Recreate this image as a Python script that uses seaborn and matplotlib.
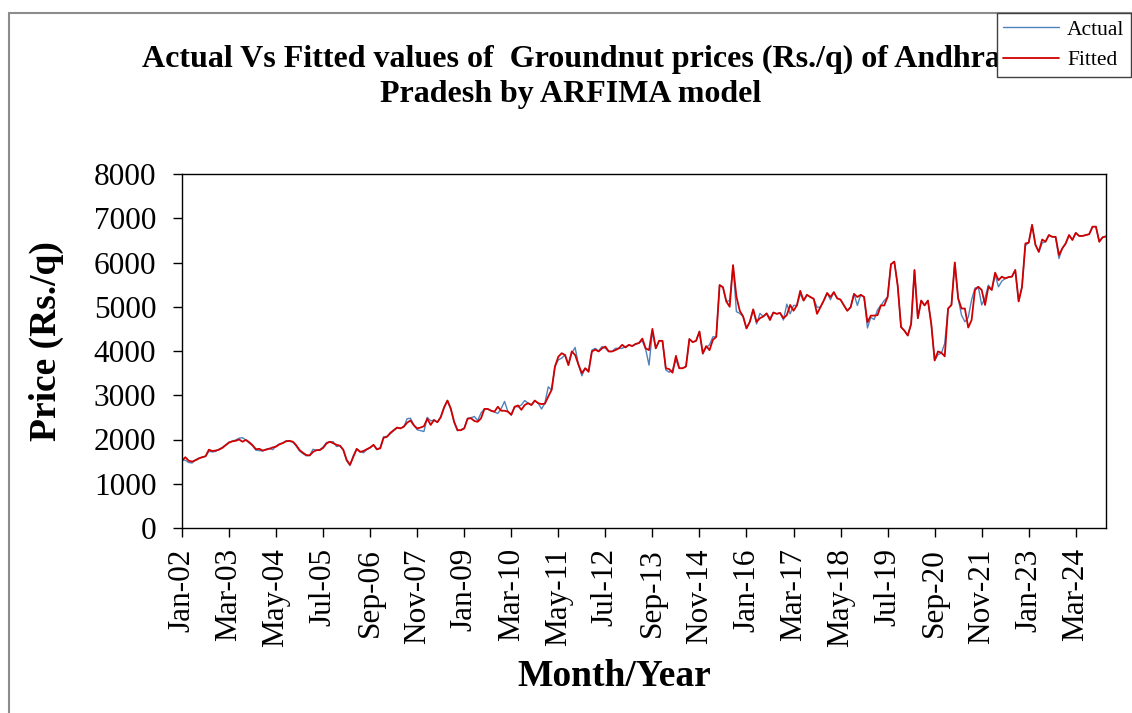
import pandas as pd
import numpy as np
from matplotlib import pyplot as plt
from matplotlib.lines import Line2D
import seaborn as sbn

# monthly groundnut prices, Andhra Pradesh, Jan 2002 - Dec 2024
months = pd.date_range("2002-01-01", periods=276, freq="MS")

actual = [
    1540, 1530, 1480, 1470, 1540, 1580, 1600, 1620, 1730, 1720,
    1730, 1780, 1820, 1880, 1940, 1960, 1990, 2030, 2040, 1990,
    1920, 1860, 1760, 1750, 1740, 1780, 1800, 1770, 1850, 1900,
    1920, 1970, 1960, 1940, 1850, 1740, 1680, 1630, 1640, 1780,
    1750, 1770, 1830, 1930, 1950, 1950, 1840, 1860,
    1760, 1520, 1410, 1640, 1780, 1730, 1700, 1770, 1810, 1870,
    1770, 1820, 2060, 2070, 2130, 2200, 2260, 2260, 2280, 2470,
    2480, 2330, 2220, 2200, 2180, 2500, 2420, 2440, 2390, 2520,
    2740, 2880, 2680, 2380, 2200, 2220, 2260, 2480, 2490, 2520,
    2430, 2600, 2690, 2690,
    2650, 2620, 2590, 2700, 2860, 2630, 2550, 2740, 2740, 2780,
    2880, 2820, 2780, 2880, 2820, 2690, 2820, 3190, 3120, 3650,
    3800, 3840, 3910, 3700, 3950, 4080, 3690, 3440, 3610, 3560,
    4020, 4060, 4000, 4100, 4060, 3990, 3990, 4060, 4060, 4060,
    4100, 4130, 4120, 4150, 4180, 4230,
    4040, 3680, 4440, 4060, 4230, 4230, 3570, 3520, 3570, 3800,
    3610, 3610, 3650, 4270, 4200, 4230, 4440, 3930, 4080, 4140,
    4320, 4320, 5490, 5440, 5120, 5140, 5940, 4890, 4850, 4780,
    4510, 4660, 4940, 4610, 4850, 4780, 4850, 4740, 4870, 4840,
    4860, 4700, 5060, 4840, 5030, 5030, 5290, 5140, 5270, 5220,
    5180, 4990, 4990, 5140, 5310, 5160, 5330, 5190, 5160, 5030,
    4910, 4990, 5290, 5030, 5270, 5220, 4520, 4760, 4710, 4930,
    5030, 5140, 5220, 5960, 6020, 5480, 4540, 4460, 4350, 4610,
    5830, 4740, 5140, 5030, 5140, 4610, 3780, 3920,
    3950, 4170, 4960, 5040, 6000, 5190, 4810, 4660, 4760, 5160,
    5420, 5450, 5040, 5200, 5490, 5380, 5720, 5450, 5580, 5640,
    5670, 5680, 5830, 5120, 5450, 6380, 6450, 6850, 6400, 6240,
    6440, 6470, 6620, 6580, 6580, 6090, 6320, 6430, 6620, 6510,
    6670, 6600, 6600, 6620, 6640, 6810, 6810, 6470, 6570, 6590,
]

fitted = [
    1520, 1600, 1520, 1500, 1530, 1570, 1600, 1620, 1770, 1740,
    1750, 1770, 1810, 1870, 1930, 1960, 1970, 2000, 1950, 1990,
    1940, 1870, 1780, 1790, 1750, 1770, 1790, 1820, 1840, 1890,
    1920, 1960, 1970, 1950, 1870, 1760, 1700, 1650, 1640, 1720,
    1760, 1760, 1810, 1910, 1950, 1915, 1880, 1860,
    1770, 1540, 1430, 1610, 1790, 1720, 1740, 1780, 1820, 1880,
    1780, 1800, 2040, 2060, 2150, 2210, 2270, 2250, 2290, 2380,
    2430, 2320, 2250, 2270, 2300, 2470, 2330, 2440, 2390, 2500,
    2720, 2880, 2700, 2400, 2210, 2210, 2250, 2470, 2480, 2420,
    2400, 2480, 2690, 2690,
    2650, 2630, 2740, 2650, 2650, 2630, 2560, 2740, 2770, 2670,
    2780, 2820, 2780, 2880, 2820, 2800, 2810, 2970, 3120, 3650,
    3870, 3950, 3910, 3680, 3990, 3910, 3690, 3500, 3610, 3530,
    3990, 4030, 3990, 4060, 4100, 3990, 3990, 4020, 4060, 4140,
    4080, 4140, 4110, 4160, 4180, 4280,
    4060, 4020, 4500, 4060, 4230, 4230, 3610, 3590, 3510, 3890,
    3610, 3610, 3650, 4270, 4200, 4230, 4440, 3950, 4110, 4020,
    4250, 4320, 5490, 5440, 5120, 5000, 5940, 5230, 4910, 4780,
    4510, 4660, 4940, 4660, 4740, 4780, 4850, 4700, 4870, 4840,
    4860, 4740, 4810, 5040, 4910, 5030, 5360, 5140, 5270, 5220,
    5180, 4840, 4990, 5140, 5310, 5220, 5330, 5190, 5160, 5030,
    4910, 4990, 5290, 5220, 5270, 5220, 4650, 4800, 4800, 4810,
    5030, 5030, 5220, 5960, 6020, 5480, 4540, 4460, 4350, 4610,
    5830, 4740, 5140, 5030, 5140, 4610, 3790, 3990,
    3960, 3880, 4960, 5040, 6000, 5190, 4960, 4960, 4530, 4700,
    5380, 5450, 5380, 5040, 5450, 5380, 5770, 5600, 5680, 5640,
    5670, 5680, 5830, 5120, 5450, 6430, 6450, 6850, 6400, 6240,
    6520, 6470, 6620, 6580, 6580, 6170, 6320, 6430, 6620, 6510,
    6670, 6600, 6600, 6620, 6640, 6810, 6810, 6470, 6570, 6590,
]

assert len(actual) == len(months) == len(fitted)

blue = "#4F81BD"
red = "#D00000"

sbn.set_theme(style="ticks")
plt.rcParams["font.family"] = ["Liberation Serif", "DejaVu Serif"]
plt.rcParams["text.color"] = "black"

df = pd.DataFrame({"idx": np.arange(len(months)), "Actual": actual, "Fitted": fitted})

fig = plt.figure(figsize=(11.32, 7.13), dpi=100)
ax = fig.add_axes([182 / 1132, 1 - 528 / 713, 924 / 1132, 354 / 713])

sbn.lineplot(data=df, x="idx", y="Actual", color=blue, linewidth=1.0, ax=ax)
sbn.lineplot(data=df, x="idx", y="Fitted", color=red, linewidth=1.3, ax=ax)

# category style axis: a label every 14 months
tick_pos = list(range(0, len(months), 14))
ax.set_xticks(tick_pos)
ax.set_xticklabels([months[i].strftime("%b-%y") for i in tick_pos], rotation=90)
ax.set_xlim(0, len(months) - 1)
ax.set_ylim(0, 8000)
ax.set_yticks(range(0, 8001, 1000))
ax.set_xlabel("")
ax.set_ylabel("")

for s in ax.spines.values():
    s.set_visible(True)
    s.set_color("black")
    s.set_linewidth(1.0)
ax.tick_params(axis="both", direction="out", length=6.5, width=1, color="black", labelcolor="black")
ax.tick_params(axis="y", labelsize=22.5, pad=12)
ax.tick_params(axis="x", labelsize=22.5, pad=8)

fig.text(571 / 1132, 1 - 77 / 713,
         "Actual Vs Fitted values of  Groundnut prices (Rs./q) of Andhra\nPradesh by ARFIMA model",
         ha="center", va="center", fontsize=23, fontweight="bold", linespacing=1.25, color="black")
fig.text(46 / 1132, 1 - 341 / 713, "Price (Rs./q)", rotation=90, ha="center", va="center",
         fontsize=27, fontweight="bold", color="black")
fig.text(614 / 1132, 1 - 676 / 713, "Month/Year", ha="center", va="center",
         fontsize=27, fontweight="bold", color="black")

handles = [Line2D([], [], color=blue, lw=1.0), Line2D([], [], color=red, lw=1.3)]
leg = fig.legend(handles, ["Actual", "Fitted"], loc="upper left",
                 bbox_to_anchor=(997 / 1132, 1 - 13 / 713), fontsize=15.5, frameon=True,
                 fancybox=False, framealpha=1, edgecolor="#404040", handlelength=2.6,
                 borderpad=0.3, labelspacing=0.5, handletextpad=0.35, borderaxespad=0)
leg.get_frame().set_linewidth(1.0)
for t in leg.get_texts():
    t.set_color("black")

# chart area border (left and top edges show)
fig.add_artist(Line2D([9 / 1132, 9 / 1132], [0, 1 - 13 / 713], transform=fig.transFigure,
                      color="#8c8c8c", lw=1.5))
fig.add_artist(Line2D([9 / 1132, 1], [1 - 13 / 713, 1 - 13 / 713], transform=fig.transFigure,
                      color="#8c8c8c", lw=1.5))

plt.savefig("out.png", dpi=100)
